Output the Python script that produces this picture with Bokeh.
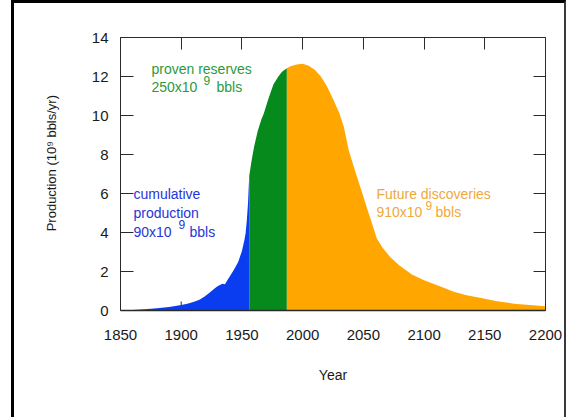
import numpy as np
from bokeh.plotting import figure
from bokeh.models import Range1d, LinearAxis, FixedTicker, CustomJSTickFormatter
from bokeh.core.properties import value
from bokeh.embed import file_html
from bokeh.resources import INLINE

# ---- data ----
years = [1850, 1860, 1870, 1880, 1890, 1900, 1905, 1910, 1915, 1919, 1923, 1926, 1929, 1931,
         1934, 1936, 1938, 1941, 1944, 1947, 1950, 1952, 1953, 1954, 1955, 1956,
         1958, 1960, 1963, 1966, 1968, 1972, 1976, 1980, 1983, 1987,
         1990, 1995, 2000, 2005, 2010, 2015, 2020, 2025, 2030, 2034, 2038, 2042, 2046,
         2050, 2054, 2058, 2061, 2066, 2072, 2080, 2090, 2100, 2113, 2125, 2135, 2146,
         2160, 2174, 2187, 2200]
production = [0.0, 0.03, 0.07, 0.12, 0.18, 0.28, 0.34, 0.43, 0.55, 0.7, 0.9, 1.05, 1.2, 1.28,
              1.37, 1.34, 1.55, 1.85, 2.15, 2.5, 3.05, 3.6, 3.95, 4.6, 5.5, 6.9,
              7.7, 8.4, 9.2, 9.8, 10.1, 10.9, 11.6, 12.0, 12.25, 12.42,
              12.52, 12.62, 12.65, 12.55, 12.35, 12.0, 11.5, 10.85, 10.15, 9.4, 8.2, 7.4, 6.6,
              5.85, 5.05, 4.3, 3.7, 3.2, 2.75, 2.3, 1.85, 1.55, 1.25, 0.95, 0.78, 0.65,
              0.48, 0.35, 0.28, 0.22]
cumulative_end = 1956
proven_end = 1987
x_ticks = [1850, 1900, 1950, 2000, 2050, 2100, 2150, 2200]
y_ticks = [0, 2, 4, 6, 8, 10, 12, 14]

FONT = "Liberation Sans"
BLUE, GREEN, ORANGE = "#0a3cf0", "#078a1c", "#ffa600"
AXIS = "#2a2a2a"

yrs = np.array(years, dtype=float)
prod = np.array(production, dtype=float)

p = figure(width=555, height=417, x_range=Range1d(1850, 2200), y_range=Range1d(0, 14),
           output_backend="svg", toolbar_location=None,
           min_border_left=106, min_border_right=24, min_border_top=34, min_border_bottom=110)
p.styles = {"margin-left": "11px", "border-left": "3px solid #000",
            "border-right": "2px solid #3a3a3a", "border-top": "3px solid #000"}
p.outline_line_color = None
p.grid.visible = False
p.background_fill_color = "white"
p.border_fill_color = "white"

# bottom ticks sit behind the filled areas
tick_len = 9 / 19.5
p.segment(x0=x_ticks, y0=[0] * len(x_ticks), x1=x_ticks, y1=[tick_len] * len(x_ticks),
          line_color=AXIS, line_width=1)

segs = [(yrs <= cumulative_end, BLUE),
        ((yrs >= cumulative_end) & (yrs <= proven_end), GREEN),
        (yrs >= proven_end, ORANGE)]
for mask, col in segs:
    p.varea(x=yrs[mask], y1=np.zeros(mask.sum()), y2=prod[mask], fill_color=col)

empty = CustomJSTickFormatter(code="return ''")

xa = p.xaxis[0]
xa.ticker = FixedTicker(ticks=x_ticks)
ya = p.yaxis[0]
ya.ticker = FixedTicker(ticks=y_ticks)
top = LinearAxis(ticker=FixedTicker(ticks=x_ticks), formatter=empty)
right = LinearAxis(ticker=FixedTicker(ticks=y_ticks), formatter=empty)
p.add_layout(top, "above")
p.add_layout(right, "right")

for ax, tin in [(xa, 0), (ya, 13), (top, 12), (right, 12)]:
    ax.major_tick_in = tin
    ax.major_tick_out = 0
    ax.minor_tick_line_color = None
    ax.axis_line_color = AXIS
    ax.major_tick_line_color = AXIS
    ax.major_label_text_font = FONT
    ax.major_label_text_font_size = "15px"
    ax.major_label_text_color = "#1a1a1a"
xa.major_tick_line_color = None
xa.major_label_standoff = 19
ya.major_label_standoff = 12
xa.axis_label = "Year"
xa.axis_label_text_font = FONT
xa.axis_label_text_font_size = "14px"
xa.axis_label_text_font_style = "normal"
xa.axis_label_text_color = "#1a1a1a"
xa.axis_label_standoff = 24
xa.axis_line_width = 1.5

# leading no-break spaces move the title up, as in the original
ya.axis_label = "\u00a0" * 6 + "Production (10\u2079 bbls/yr)"
ya.axis_label_text_font = FONT
ya.axis_label_text_font_size = "13px"
ya.axis_label_text_font_style = "normal"
ya.axis_label_text_color = "#1a1a1a"
ya.axis_label_standoff = 30

def txt(x, y, s, color, size="14px"):
    p.text(x=[x], y=[y], text=[s], text_color=color, text_font=value(FONT),
           text_font_size=size, text_baseline="alphabetic", text_align="left")

G, B, O = "#2c9a3c", "#2636d6", "#f0a840"
txt(1875.5, 12.38, "proven reserves", G)
txt(1875.5, 11.46, "250x10", G)
txt(1918.4, 11.82, "9", G, "12px")
txt(1929.1, 11.46, "bbls", G)

txt(1860.7, 5.97, "cumulative", B)
txt(1860.7, 5.0, "production", B)
txt(1860.7, 4.02, "90x10", B)
txt(1897.8, 4.43, "9", B, "12px")
txt(1906.8, 4.02, "bbls", B)

txt(2060.8, 5.97, "Future discoveries", O)
txt(2060.8, 5.05, "910x10", O)
txt(2101.2, 5.40, "9", O, "12px")
txt(2109.4, 5.05, "bbls", O)

open("out.html", "w").write(file_html(p, INLINE))
